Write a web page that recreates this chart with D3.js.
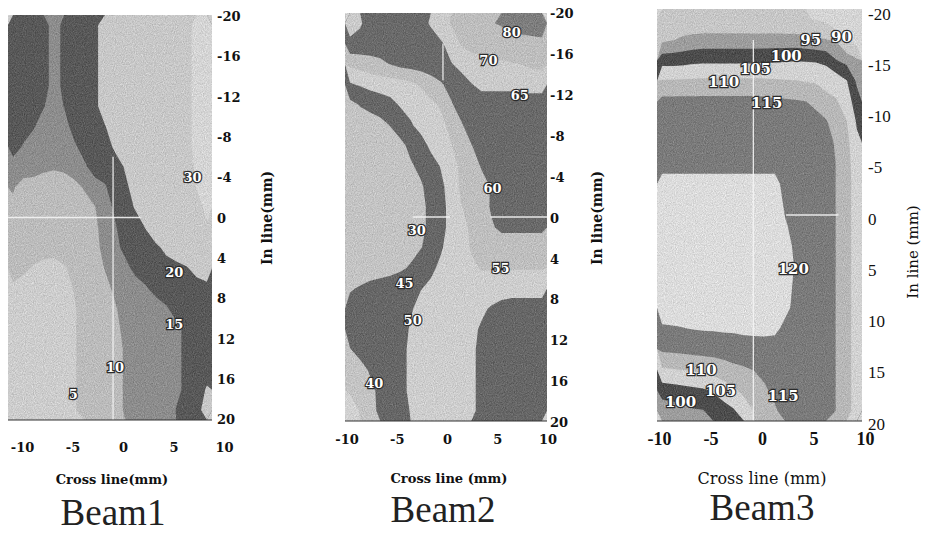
<!DOCTYPE html>
<html>
<head>
<meta charset="utf-8">
<script src="https://cdn.jsdelivr.net/npm/d3@7"></script>
<style>
  body { margin: 0; background: #fff; }
  svg { display: block; }
</style>
</head>
<body>
<svg id="chart" width="925" height="533"></svg>
<script>
// *** DATA ***
// sample centres of the measured grid (mm)
var crossMM = [-9.5, -8.5, -7.5, -6.5, -5.5, -4.5, -3.5, -2.5, -1.5, -0.5, 0.5, 1.5, 2.5, 3.5, 4.5, 5.5, 6.5, 7.5, 8.5, 9.5];
var inLineMM = [-19, -17, -15, -13, -11, -9, -7, -5, -3, -1, 1, 3, 5, 7, 9, 11, 13, 15, 17, 19];

var crossTicks = [-10, -5, 0, 5, 10];
var inLineTicks12 = [-20, -16, -12, -8, -4, 0, 4, 8, 12, 16, 20];
var inLineTicks3 = [-20, -15, -10, -5, 0, 5, 10, 15, 20];

var beamNames = ["Beam1", "Beam2", "Beam3"];
var crossTitles = ["Cross line(mm)", "Cross line (mm)", "Cross line (mm)"];
var inLineTitles = ["In line(mm)", "In line(mm)", "In line (mm)"];

var beam1Levels = [5, 10, 15, 20, 30];
var beam2Levels = [40, 45, 50, 55, 60, 65, 70, 80];
var beam3Levels = [90, 95, 100, 105, 110, 115, 120];

// rows = in line (top to bottom), columns = cross line (left to right)
var beam1Grid = [
  [17.5,17.5,17.5,17.5,12.5,16.5,17.5,17.5,17.5,25,25,25,25,25,25,25,25,25,35,35],
  [17.5,17.5,17.5,17.5,12.5,16.5,17.5,17.5,17.5,25,25,25,25,25,25,25,25,25,35,35],
  [17.5,17.5,17.5,17.5,12.5,16.5,17.5,17.5,17.5,25,25,25,25,25,25,25,25,25,35,35],
  [17.5,17.5,17.5,17.5,12.5,16.5,17.5,17.5,17.5,25,25,25,25,25,25,25,25,25,35,35],
  [17.5,17.5,17.5,15.3,12.5,15.2,17.5,17.5,17.5,25,25,25,25,25,25,25,25,25,35,35],
  [17.5,17.5,15.5,12.5,12.5,12.5,17.5,17.5,17.5,19.5,25,25,25,25,25,25,25,25,35,35],
  [17.5,14.5,12.5,12.5,12.5,12.5,14,17.5,17.5,17.5,21,25,25,25,25,25,25,25,35,35],
  [12.5,12.5,12.5,11,10.5,11,12.5,14,17.5,17.5,17.5,20.5,25,25,25,25,25,27,31,35],
  [10.5,8,7.5,7.5,7.5,7.5,8.5,10.5,12.5,14.5,17.5,19,22,25,25,25,25,25,30.5,35],
  [9,7.5,7.5,7.5,7.5,7.5,7.5,8,9.8,12.5,16,17.5,20.5,25,25,25,25,25,27,32],
  [7.5,7.5,7.5,7.5,7.5,7.5,7.5,7.5,9,12,14.5,17.5,17.5,20.2,25,25,25,25,25,29],
  [7.5,7.5,7.5,7.5,7.5,7.5,7.5,7.5,8.5,11.5,14,16,17.5,17.5,18.5,21.5,25,25,25,25],
  [7.5,6,4.5,3,2.5,4.5,6.5,7.5,7.5,10.2,12.5,14,16,17.5,17.5,17.5,17.5,19.5,22,25],
  [4,3,2.5,2,2,3,5.3,7,7.5,8.5,11,12.5,13.5,14.5,16.5,17.5,17.5,17.5,17.5,17.5],
  [2,2,2,2,2.5,3.5,4.5,7,7.5,8,9.5,12,12.5,12.5,13,14.5,16.5,17.5,17.5,17.5],
  [2,2,2,2,2,3,4.5,7,7.5,7.5,9,11,12.5,12.5,12.5,12.5,14,16,17.5,17.5],
  [2,2,2,2,2,3,4.5,7,7.5,7.5,8.5,10.5,12.5,12.5,12.5,12.5,14,16,17.5,17.5],
  [2,2,2,2,2,3,4.5,7,7.5,7.5,8.5,10.5,12.5,12.5,12.5,12.5,14,16,17.5,18],
  [2,2,2,2,2,3,4.5,7,7.5,7.5,8.5,10.5,12.5,12.5,12.5,12.5,14,16,17.5,20.5],
  [2,2,2,2,2,3,4.5,7,7.5,7.5,8.5,10.5,12.5,12.5,12.5,12.5,15.2,17.5,18.5,22]
];

var beam2Grid = [
  [67,65.5,63,62,62,62,62,63.5,65.5,67.5,70.3,72.5,75,76.5,79.5,81,83,85,86,87],
  [64,63.5,63,62.5,62.5,62.5,62.5,62.5,63,64.5,66.5,70.5,72,73.5,74.5,75,75.5,76,76.5,77],
  [56,57,58,59,60.2,61.5,62,62.5,63,63.5,64.8,66,67.5,68,68.5,69,69.5,70.2,71,71.5],
  [49.5,50.5,51.5,52,52.5,53,54,55.5,57.5,59.5,61.5,63.5,64.8,66,66,66,66,66.5,66.5,66.5],
  [43.5,45.3,46.5,47.5,48.5,50.5,51.5,52.5,54,55.5,59.5,62,63,63,63,63,63,63,63,63],
  [42,42,42.5,43.5,45.2,47,49.5,51.5,52.5,54,56,59.5,62,63,63,63,63,63,63,63],
  [42,42,42,42,42.5,44,46,48,51,53,54.8,57,59.8,62,63,63,63,63,63,63],
  [42,42,42,42,42,43,44.5,46,48,50.3,53,56,58,60.3,62.5,63,63,63,63,63],
  [42,42,42,42,42,42,43,44.5,46.5,49,52,55.8,57,58.5,60.3,62.5,63,63,63,63],
  [42,42,42,42,42,42,42.5,44,46,48.5,51.5,54.8,56.5,58,60.5,62.5,63,63,63,63],
  [42,42,42,42,42,42,42.5,44,46,48.5,51.5,54,55.5,57.5,59.5,61,61,61,61,61],
  [42,42,42,42,42,42.5,43.5,44.8,46.5,49.5,52,53.5,55.3,57,57.5,57.5,57.5,57.5,57.5,57.5],
  [42,42,42.5,43,43.5,44.3,45.5,47.5,49,51,52.5,53.5,54.3,55.3,55.3,55.3,55.3,55.3,55.3,55.3],
  [44.5,45.5,46.5,47,47.5,48,49,49.8,51,52,53,53.5,53.5,53,52.5,52,51.8,51.8,51.8,51.8],
  [47,47.5,47.5,47.5,47.5,48,49.5,51.5,52.5,53,53,52.5,51.5,50.8,49.5,48.5,48,48,48,48],
  [47,47,47.5,47.5,47.5,48,50.5,52,53,53,53,52.5,51,49.5,48,47.5,47.5,47.5,47.5,47.5],
  [44.8,46.5,47.5,48,48,48.5,51,52.5,53,53,53,52.5,50.8,49,48,47.5,47.5,47.5,47.5,47.5],
  [42.5,43.5,45.5,47,48,48.5,51,52.5,53,53,53,52.5,50.8,49,48,47.5,47.5,47.5,47.5,47.5],
  [40.5,42,44,46,47.5,48.5,51,52.5,53,53,53,52.5,50.8,49,48,47.5,47.5,47.5,47.5,47.5],
  [38,40.3,43.5,46,47.5,48.5,50.2,52,53,53,53,52.5,50.8,49,48,47.5,47.5,47.5,47.5,47.5]
];

var beam3Grid = [
  [92,92,91.5,91,90.8,90.8,90.8,90.7,90.6,90.5,90.5,90.5,90.4,90.3,90.3,89.8,89,85,84,83],
  [94,94.8,95.8,96.5,97,97,97,97,97,97,97,97,97,97,96.5,95.8,95.2,94.5,89,88],
  [103,103,103.2,103.8,104,104,104,104,104,104,104.2,104.4,104.6,104.8,104.7,104.5,104,100.2,98.5,95.8],
  [110.5,110.5,110.7,110.8,111,111,111,111,111,111,110.8,110.6,110.4,110.2,109.8,109.5,108,108,105.3,99.2],
  [116.5,116.5,116.5,116.5,116.5,116.5,116.5,116.5,116.5,116.5,116.3,116,115.8,115.5,115.1,114,112,110.4,108,102],
  [117.5,117.5,117.5,117.5,117.5,117.5,117.5,117.5,117.5,117.5,117.5,117.5,117.3,117,116.8,116.5,115.5,112.5,110.2,104.5],
  [118,118,118,118,118,118,118,118,118,118,118,118,118,118,118,118,117,114.3,111.5,106],
  [119,119,119,119,119,119,119,119,119,119,119,119,119,119,119,119,117.5,114.8,112,107],
  [121,121,121,121,121,121,121,121,121,121,121,121,119,118.5,118,118,117.5,114.8,112,107.5],
  [122,122,122,122,122,122,122,122,122,122,122,122,119.5,118.5,118,118,117.5,114.8,112,107.5],
  [122.5,122.5,122.5,122.5,122.5,122.5,122.5,122.5,122.5,122.5,122.5,122.5,120.3,119,118.5,118,117.5,114.8,112,107.5],
  [122.5,122.5,122.5,122.5,122.5,122.5,122.5,122.5,122.5,122.5,122.5,122.5,121,119.5,118.5,118,117.5,114.8,112,107.5],
  [122.5,122.5,122.5,122.5,122.5,122.5,122.5,122.5,122.5,122.5,122.5,122.5,122.5,119.6,118.5,118,117.5,114.8,112,107.5],
  [122.5,122.5,122.5,122.5,122.5,122.5,122.5,122.5,122.5,122.5,122.5,122.5,121.5,119.3,118.5,118,117.5,114.8,112,107.5],
  [122,122,122,122,122,122,122,122,122,122,122,121.5,121,119,118,118,117.5,114.8,112,107.5],
  [119.5,119.7,119.9,120.2,120.4,120.5,120.7,120.8,121,121,121,121,119,118,118,118,117.5,114.8,112,107.5],
  [116,116.2,116.5,116.8,117,117,117.2,117.5,118,118.3,118.5,118,117.5,117.5,117.5,117.5,117.5,114.8,112,107.5],
  [109.5,109.8,110.2,110.6,111.2,112,113,114,114.5,115.2,116,117,117.5,117.5,117.5,117.5,117.5,114.8,112,107.5],
  [102.5,103,103.5,104,104.5,105.5,107.5,109.5,111,112.5,114.5,116,117,117.5,117.5,117.5,117.5,114.8,112,107.5],
  [97,97.5,98.5,99.5,99.8,102,103,104.5,108,110.3,113,114.5,116.5,117.5,117.5,117.5,117.5,114.8,112,107.5]
];

// contour labels (value, cross mm, in line mm)
var beam1Labels = [
  {t: "30", x: 8.1, y: -4.0}, {t: "20", x: 6.3, y: 5.4}, {t: "15", x: 6.3, y: 10.6},
  {t: "10", x: 0.5, y: 14.8}, {t: "5", x: -3.6, y: 17.5}
];
var beam2Labels = [
  {t: "80", x: 6.5, y: -18.1}, {t: "70", x: 4.2, y: -15.3}, {t: "65", x: 7.3, y: -11.9},
  {t: "60", x: 4.6, y: -2.8}, {t: "30", x: -2.9, y: 1.3}, {t: "55", x: 5.4, y: 5.0},
  {t: "45", x: -4.1, y: 6.5}, {t: "50", x: -3.3, y: 10.1}, {t: "40", x: -7.1, y: 16.3}
];
var beam3Labels = [
  {t: "90", x: 8.0, y: -17.3}, {t: "95", x: 5.0, y: -17.0}, {t: "100", x: 2.6, y: -15.5},
  {t: "105", x: -0.4, y: -14.2}, {t: "110", x: -3.5, y: -12.9}, {t: "115", x: 0.7, y: -10.9},
  {t: "120", x: 3.3, y: 5.2}, {t: "110", x: -5.7, y: 15.0}, {t: "105", x: -3.8, y: 17.1},
  {t: "100", x: -7.7, y: 18.1}, {t: "115", x: 2.3, y: 17.5}
];

// white reference lines seen on the maps (mm)
var beam1Lines = [[0.3, -6, 0.3, 20], [-10, 0, 3, 0]];
var beam2Lines = [[-0.3, -17, -0.3, -13.4], [-3.3, 0, 0.4, 0], [4.4, 0, 10, 0]];
var beam3Lines = [[-0.6, -17, -0.6, 20], [2.6, 0, 7.7, 0]];

// *** STYLE ***
var beam1Greys = ["#cdcdcd", "#bcbcbc", "#8d8d8d", "#595959", "#c8c8c8", "#d5d5d5"];
var beam2Greys = ["#d2d2d2", "#c4c4c4", "#676767", "#cecece", "#bfbfbf", "#6a6a6a", "#cbcbcb", "#bebebe", "#7e7e7e"];
var beam3Greys = ["#d5d5d5", "#c7c7c7", "#9d9d9d", "#4d4d4d", "#d2d2d2", "#b8b8b8", "#7b7b7b", "#dcdcdc"];

var panels = [
  {grid: beam1Grid, levels: beam1Levels, greys: beam1Greys, labels: beam1Labels, lines: beam1Lines,
   ticks: inLineTicks12, plot: [8, 212, 15, 420], tickRange: [16, 419], tickX: 217,
   xLab: [22, 224], xLabY: 452, tickFont: ["DejaVu Serif", 13, "bold"], xFont: ["DejaVu Serif", 13, "bold"],
   yTitle: [267, 218], titleFont: ["DejaVu Serif", 14, "bold"], xTitle: [112, 484], xTitleFont: ["DejaVu Serif", 13, "bold"],
   beam: [113, 525], labelSize: 13},
  {grid: beam2Grid, levels: beam2Levels, greys: beam2Greys, labels: beam2Labels, lines: beam2Lines,
   ticks: inLineTicks12, plot: [345, 547, 13, 421], tickRange: [13, 422], tickX: 550,
   xLab: [346.5, 547.5], xLabY: 444, tickFont: ["DejaVu Serif", 13, "bold"], xFont: ["DejaVu Serif", 13, "bold"],
   yTitle: [597, 218], titleFont: ["DejaVu Serif", 14, "bold"], xTitle: [449, 483], xTitleFont: ["DejaVu Serif", 13, "bold"],
   beam: [443, 522], labelSize: 13},
  {grid: beam3Grid, levels: beam3Levels, greys: beam3Greys, labels: beam3Labels, lines: beam3Lines,
   ticks: inLineTicks3, plot: [657, 862, 9, 421], tickRange: [13, 423], tickX: 868,
   xLab: [659, 865], xLabY: 445, tickFont: ["Liberation Serif", 17, "normal"], xFont: ["Liberation Serif", 18, "bold"],
   yTitle: [913, 252], titleFont: ["DejaVu Serif", 15, "normal"], xTitle: [762, 484], xTitleFont: ["DejaVu Serif", 16, "normal"],
   beam: [762, 520], labelSize: 15}
];

// *** SVG STUFF ***
var svg = d3.select("#chart");
var defs = svg.append("defs");

var grain = defs.append("filter")
  .attr("id", "grain")
  .attr("x", 0).attr("y", 0).attr("width", 1).attr("height", 1)
  .attr("color-interpolation-filters", "sRGB");
grain.append("feTurbulence")
  .attr("type", "fractalNoise").attr("baseFrequency", 0.9)
  .attr("numOctaves", 2).attr("seed", 5).attr("result", "n");
grain.append("feColorMatrix")
  .attr("in", "n").attr("type", "matrix")
  .attr("values", "0.33 0.33 0.33 0 0  0.33 0.33 0.33 0 0  0.33 0.33 0.33 0 0  0 0 0 0 1")
  .attr("result", "g");
grain.append("feComposite")
  .attr("in", "SourceGraphic").attr("in2", "g")
  .attr("operator", "arithmetic")
  .attr("k1", 0).attr("k2", 1).attr("k3", 0.45).attr("k4", -0.225);

function setFont(sel, f) {
  return sel.attr("font-family", "'" + f[0] + "', serif")
    .attr("font-size", f[1])
    .attr("font-weight", f[2]);
}

panels.forEach(function(p, k) {
  var x = d3.scaleLinear().domain([-10, 10]).range([p.plot[0], p.plot[1]]);
  var y = d3.scaleLinear().domain([-20, 20]).range([p.plot[2], p.plot[3]]);

  // grid -> mm -> pixels
  var dx = crossMM[1] - crossMM[0];
  var dy = inLineMM[1] - inLineMM[0];
  var gx0 = crossMM[0] - dx / 2;
  var gy0 = inLineMM[0] - dy / 2;
  var path = d3.geoPath(d3.geoTransform({
    point: function(gx, gy) {
      this.stream.point(x(gx0 + gx * dx), y(gy0 + gy * dy));
    }
  }));

  var values = [];
  p.grid.forEach(function(row) { values = values.concat(row); });
  var bands = d3.contours()
    .size([crossMM.length, inLineMM.length])
    .thresholds(p.levels)(values);

  defs.append("clipPath").attr("id", "clip" + k)
    .append("rect")
      .attr("x", p.plot[0]).attr("y", p.plot[2])
      .attr("width", p.plot[1] - p.plot[0])
      .attr("height", p.plot[3] - p.plot[2]);

  var map = svg.append("g")
    .attr("clip-path", "url(#clip" + k + ")");
  var fills = map.append("g").attr("filter", "url(#grain)");

  fills.append("rect")
    .attr("x", p.plot[0]).attr("y", p.plot[2])
    .attr("width", p.plot[1] - p.plot[0])
    .attr("height", p.plot[3] - p.plot[2])
    .attr("fill", p.greys[0]);

  fills.selectAll("path.band")
    .data(bands)
    .enter()
      .append("path")
      .attr("class", "band")
      .attr("d", path)
      .attr("fill-rule", "evenodd")
      .attr("fill", function(d, i) { return p.greys[i + 1]; });

  map.selectAll("line.ref")
    .data(p.lines)
    .enter()
      .append("line")
      .attr("x1", function(d) { return x(d[0]); })
      .attr("y1", function(d) { return y(d[1]); })
      .attr("x2", function(d) { return x(d[2]); })
      .attr("y2", function(d) { return y(d[3]); })
      .attr("stroke", "#f4f4f4")
      .attr("stroke-width", 1.3)
      .attr("opacity", 0.9);

  // bottom edge of the map
  svg.append("line")
    .attr("x1", x(-10)).attr("x2", x(10))
    .attr("y1", y(20)).attr("y2", y(20))
    .attr("stroke", "#333").attr("stroke-width", 1.2);

  // contour value labels
  var lab = svg.selectAll("text.lab" + k)
    .data(p.labels)
    .enter()
      .append("text")
      .attr("class", "lab" + k)
      .attr("x", function(d) { return x(d.x); })
      .attr("y", function(d) { return y(d.y); })
      .attr("dy", "0.35em")
      .attr("text-anchor", "middle")
      .attr("fill", "#fff")
      .attr("stroke", "#2b2b2b")
      .attr("stroke-width", 2.4)
      .attr("paint-order", "stroke")
      .text(function(d) { return d.t; });
  setFont(lab, ["DejaVu Serif", p.labelSize, "bold"]);

  // in line axis (right)
  var yTick = d3.scaleLinear().domain([-20, 20]).range(p.tickRange);
  var yAxis = svg.append("g")
    .attr("transform", "translate(" + p.tickX + ",0)")
    .call(d3.axisRight(yTick)
      .tickValues(p.ticks)
      .tickSize(0)
      .tickPadding(0)
      .tickFormat(function(d) { return String(d); }));
  yAxis.select(".domain").remove();
  yAxis.selectAll("text").attr("fill", "#111").attr("dy", "0.36em");
  setFont(yAxis, p.tickFont);

  // cross line axis (bottom)
  var xTick = d3.scaleLinear().domain([-10, 10]).range(p.xLab);
  var xAxis = svg.append("g")
    .attr("transform", "translate(0," + p.xLabY + ")")
    .call(d3.axisBottom(xTick)
      .tickValues(crossTicks)
      .tickSize(0)
      .tickPadding(0)
      .tickFormat(function(d) { return String(d); }));
  xAxis.select(".domain").remove();
  xAxis.selectAll("text").attr("fill", "#111").attr("y", 0).attr("dy", null);
  setFont(xAxis, p.xFont);

  // titles
  setFont(svg.append("text")
    .attr("transform", "translate(" + p.yTitle[0] + "," + p.yTitle[1] + ") rotate(-90)")
    .attr("dy", "0.35em")
    .attr("text-anchor", "middle")
    .attr("fill", "#111")
    .text(inLineTitles[k]), p.titleFont);

  setFont(svg.append("text")
    .attr("x", p.xTitle[0]).attr("y", p.xTitle[1])
    .attr("text-anchor", "middle")
    .attr("fill", "#111")
    .text(crossTitles[k]), p.xTitleFont);

  setFont(svg.append("text")
    .attr("x", p.beam[0]).attr("y", p.beam[1])
    .attr("text-anchor", "middle")
    .attr("fill", "#222")
    .text(beamNames[k]), ["Liberation Serif", 37, "normal"]);
});
</script>
</body>
</html>
